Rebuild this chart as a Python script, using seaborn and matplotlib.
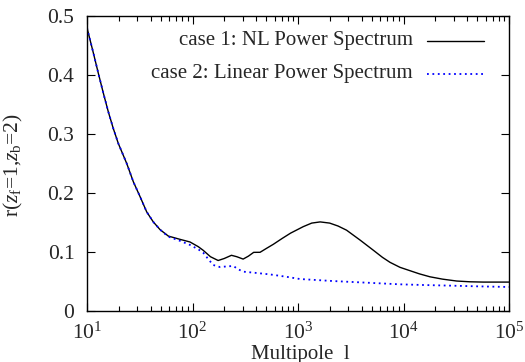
import numpy as np
import pandas as pd
import matplotlib
matplotlib.use("Agg")
import matplotlib.pyplot as plt
import seaborn as sns
from matplotlib.lines import Line2D
from matplotlib.ticker import LogLocator, FixedLocator

# ---- data ----
ell_nl = [10, 11.5, 12.8, 14.3, 15.9, 17.7, 19.8, 23.8, 27.5, 31.8, 36.8, 42.5, 49.2, 59.0,
          75.9, 94.6, 113.5, 126, 148, 175, 200, 234, 263, 302, 339, 380, 437, 501, 583, 708,
          851, 1122, 1349, 1622, 1995, 2399, 2884, 3890, 5176, 6310, 7447, 9268, 11482,
          14125, 17783, 23442, 31915, 42658, 57148, 75858, 100000]
r_nl = [0.480, 0.437, 0.403, 0.369, 0.338, 0.310, 0.284, 0.250, 0.219, 0.194, 0.168, 0.151,
        0.138, 0.127, 0.1215, 0.117, 0.109, 0.103, 0.092, 0.0856, 0.089, 0.0944, 0.092, 0.088,
        0.093, 0.0994, 0.0995, 0.106, 0.113, 0.123, 0.132, 0.143, 0.149, 0.151, 0.149, 0.144,
        0.137, 0.120, 0.103, 0.091, 0.0825, 0.074, 0.0684, 0.063, 0.058, 0.054, 0.0508,
        0.0495, 0.049, 0.049, 0.049]

ell_lin = [10, 11.5, 12.8, 14.3, 15.9, 17.7, 19.8, 23.8, 27.5, 31.8, 36.8, 42.5, 49.2, 59.0,
           75.9, 94.6, 113.5, 126, 141, 157, 182, 209, 244, 269, 302, 378, 543, 776, 1045,
           2138, 4467, 9268, 15849, 27542, 50119, 100000]
r_lin = [0.480, 0.437, 0.403, 0.369, 0.338, 0.310, 0.284, 0.250, 0.219, 0.194, 0.168, 0.151,
         0.138, 0.126, 0.119, 0.112, 0.1045, 0.099, 0.088, 0.078, 0.0745, 0.0755, 0.0763,
         0.071, 0.0667, 0.065, 0.062, 0.058, 0.0542, 0.0508, 0.048, 0.0452, 0.044, 0.043,
         0.0418, 0.0407]

labels = ["case 1: NL Power Spectrum", "case 2: Linear Power Spectrum"]
xticks = [10, 100, 1000, 10000, 100000]
yticks = [0, 0.1, 0.2, 0.3, 0.4, 0.5]
ytick_labels = ["0", "0.1", "0.2", "0.3", "0.4", "0.5"]

sns.set_style("ticks")
plt.rcParams['font.family'] = ['Liberation Serif', 'DejaVu Serif']
plt.rcParams['mathtext.fontset'] = 'custom'
plt.rcParams['mathtext.rm'] = 'Liberation Serif'
plt.rcParams['mathtext.it'] = 'Liberation Serif:italic'

fig = plt.figure(figsize=(5.25, 3.62), dpi=100)
ax = fig.add_axes([87/525, 1-311/362, (509-87)/525, (311-16)/362])

df_nl = pd.DataFrame({"ell": ell_nl, "r": r_nl})
df_lin = pd.DataFrame({"ell": ell_lin, "r": r_lin})
sns.lineplot(data=df_nl, x="ell", y="r", ax=ax, color="black", lw=1.0, sort=False, estimator=None)
sns.lineplot(data=df_lin, x="ell", y="r", ax=ax, color="#0000ff", lw=1.3,
             linestyle=(0, (1, 2)), sort=False, estimator=None)

ax.set_xscale("log")
ax.set_xlim(10, 1e5)
ax.set_ylim(0, 0.5)
ax.xaxis.set_major_locator(FixedLocator(xticks))
ax.set_xticklabels([r"$10^{%d}$" % int(np.log10(t)) for t in xticks])
ax.xaxis.set_minor_locator(LogLocator(base=10, subs=np.arange(2, 10), numticks=20))
ax.yaxis.set_major_locator(FixedLocator(yticks))
ax.set_yticklabels(ytick_labels)
ax.tick_params(which="both", direction="in", top=True, right=True, labelsize=15.5,
               width=0.8, color="black")
ax.tick_params(which="major", length=6)
ax.tick_params(which="minor", length=3.5)
ax.tick_params(axis="y", which="major", pad=9)
ax.tick_params(axis="x", which="major", pad=8)
for s in ax.spines.values():
    s.set_linewidth(1.0)
    s.set_color("black")

ax.set_xlabel("Multipole  l", fontsize=15)
ax.xaxis.set_label_coords((300 - 87) / 422, (311 - 354) / 295)
ax.xaxis.label.set_va("center")
ax.set_ylabel(r"r($z_{\rm f}$=1,$z_{\rm b}$=2)", fontsize=15.5)
ax.yaxis.set_label_coords((13 - 87) / 422, (311 - 165) / 295)
ax.yaxis.label.set_va("center")

# gnuplot-style legend: right-aligned text, sample to the right
for i, (lab, col, ls, lw) in enumerate([(labels[0], "black", "-", 1.0),
                                       (labels[1], "#0000ff", (0, (1, 2)), 1.3)]):
    yy = 1 - (41 + 32.5 * i - 16) / 295
    ax.text((413 - 87) / 422, yy, lab, transform=ax.transAxes, ha="right", va="center",
            fontsize=15)
    ax.add_line(Line2D([(427 - 87) / 422, (484 - 87) / 422], [yy, yy], transform=ax.transAxes,
                       color=col, linestyle=ls, lw=lw))

fig.savefig("out.png", dpi=100)
